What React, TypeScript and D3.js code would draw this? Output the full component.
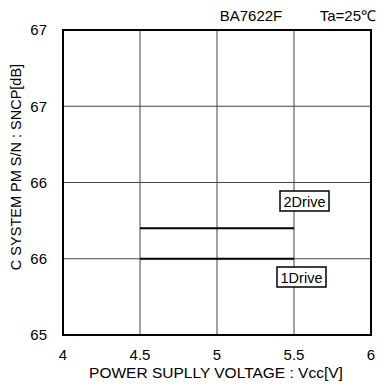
import React, { useRef, useEffect } from 'react';
import { select, scaleLinear, line } from "d3";

const xTicks = [4, 4.5, 5, 5.5, 6];
const yTicks = [65, 65.5, 66, 66.5, 67];
const yTickLabels = ["65", "66", "66", "67", "67"];
const voltage = [4.5, 5.5];
const drive1 = [65.5, 65.5];
const drive2 = [65.7, 65.7];

function App() {
  const rootRef = useRef<SVGSVGElement>(null);
  const width = 378;
  const height = 387;
  const margin = { top: 30, right: 7, bottom: 52, left: 63 };

  useEffect(() => {
    const root = select(rootRef.current);
    root.selectAll('*').remove();

    const x = scaleLinear().domain([4, 6]).range([margin.left, width - margin.right]);
    const y = scaleLinear().domain([65, 67]).range([height - margin.bottom, margin.top]);
    const font = "'Liberation Sans', Arial, sans-serif";

    // grid
    root.append('g').selectAll('line').data(xTicks).enter().append('line')
      .attr('x1', d => x(d)).attr('x2', d => x(d))
      .attr('y1', y(67)).attr('y2', y(65))
      .attr('stroke', '#444').attr('stroke-width', 1);
    root.append('g').selectAll('line').data(yTicks).enter().append('line')
      .attr('x1', x(4)).attr('x2', x(6))
      .attr('y1', d => y(d)).attr('y2', d => y(d))
      .attr('stroke', '#444').attr('stroke-width', 1);

    // frame
    root.append('rect')
      .attr('x', x(4)).attr('y', y(67))
      .attr('width', x(6) - x(4)).attr('height', y(65) - y(67))
      .attr('fill', 'none').attr('stroke', '#000').attr('stroke-width', 2);

    // tick labels
    root.append('g').selectAll('text').data(xTicks).enter().append('text')
      .attr('x', d => x(d)).attr('y', y(65) + 25)
      .attr('text-anchor', 'middle').attr('font-family', font).attr('font-size', 15)
      .text(d => String(d));
    root.append('g').selectAll('text').data(yTicks).enter().append('text')
      .attr('x', x(4) - 16).attr('y', d => y(d)).attr('dy', '0.35em')
      .attr('text-anchor', 'end').attr('font-family', font).attr('font-size', 15)
      .text((d, i) => yTickLabels[i]);

    // series
    const ln = line<number>().x((d, i) => x(voltage[i])).y(d => y(d));
    [drive2, drive1].forEach(s => {
      root.append('path').attr('d', ln(s) as string)
        .attr('fill', 'none').attr('stroke', '#000').attr('stroke-width', 2);
    });

    // labels
    const boxes = [
      { text: '2Drive', x: 280, y: 191 },
      { text: '1Drive', x: 277, y: 267 },
    ];
    boxes.forEach(b => {
      root.append('rect').attr('x', b.x).attr('y', b.y).attr('width', 49).attr('height', 20)
        .attr('fill', '#fff').attr('stroke', '#000').attr('stroke-width', 1.5);
      root.append('text').attr('x', b.x + 24.5).attr('y', b.y + 15.5)
        .attr('text-anchor', 'middle').attr('font-family', font).attr('font-size', 14.5)
        .text(b.text);
    });

    root.append('text').attr('x', 251).attr('y', 21).attr('text-anchor', 'middle')
      .attr('font-family', font).attr('font-size', 15).text('BA7622F');
    root.append('text').attr('x', 376).attr('y', 21).attr('text-anchor', 'end')
      .attr('font-family', font).attr('font-size', 15).text('Ta=25℃');

    root.append('text').attr('x', 216).attr('y', 378).attr('text-anchor', 'middle')
      .attr('font-family', font).attr('font-size', 15.5).text('POWER SUPLLY VOLTAGE : Vcc[V]');
    root.append('text')
      .attr('transform', `translate(21,167) rotate(-90)`)
      .attr('text-anchor', 'middle')
      .attr('font-family', font).attr('font-size', 14.5).text('C SYSTEM PM S/N : SNCP[dB]');
  });

  return (
    <svg ref={rootRef} width={width} height={height}
      style={{ position: 'absolute', left: 0, top: 0, background: '#fff' }}></svg>
  );
}

export default App;
